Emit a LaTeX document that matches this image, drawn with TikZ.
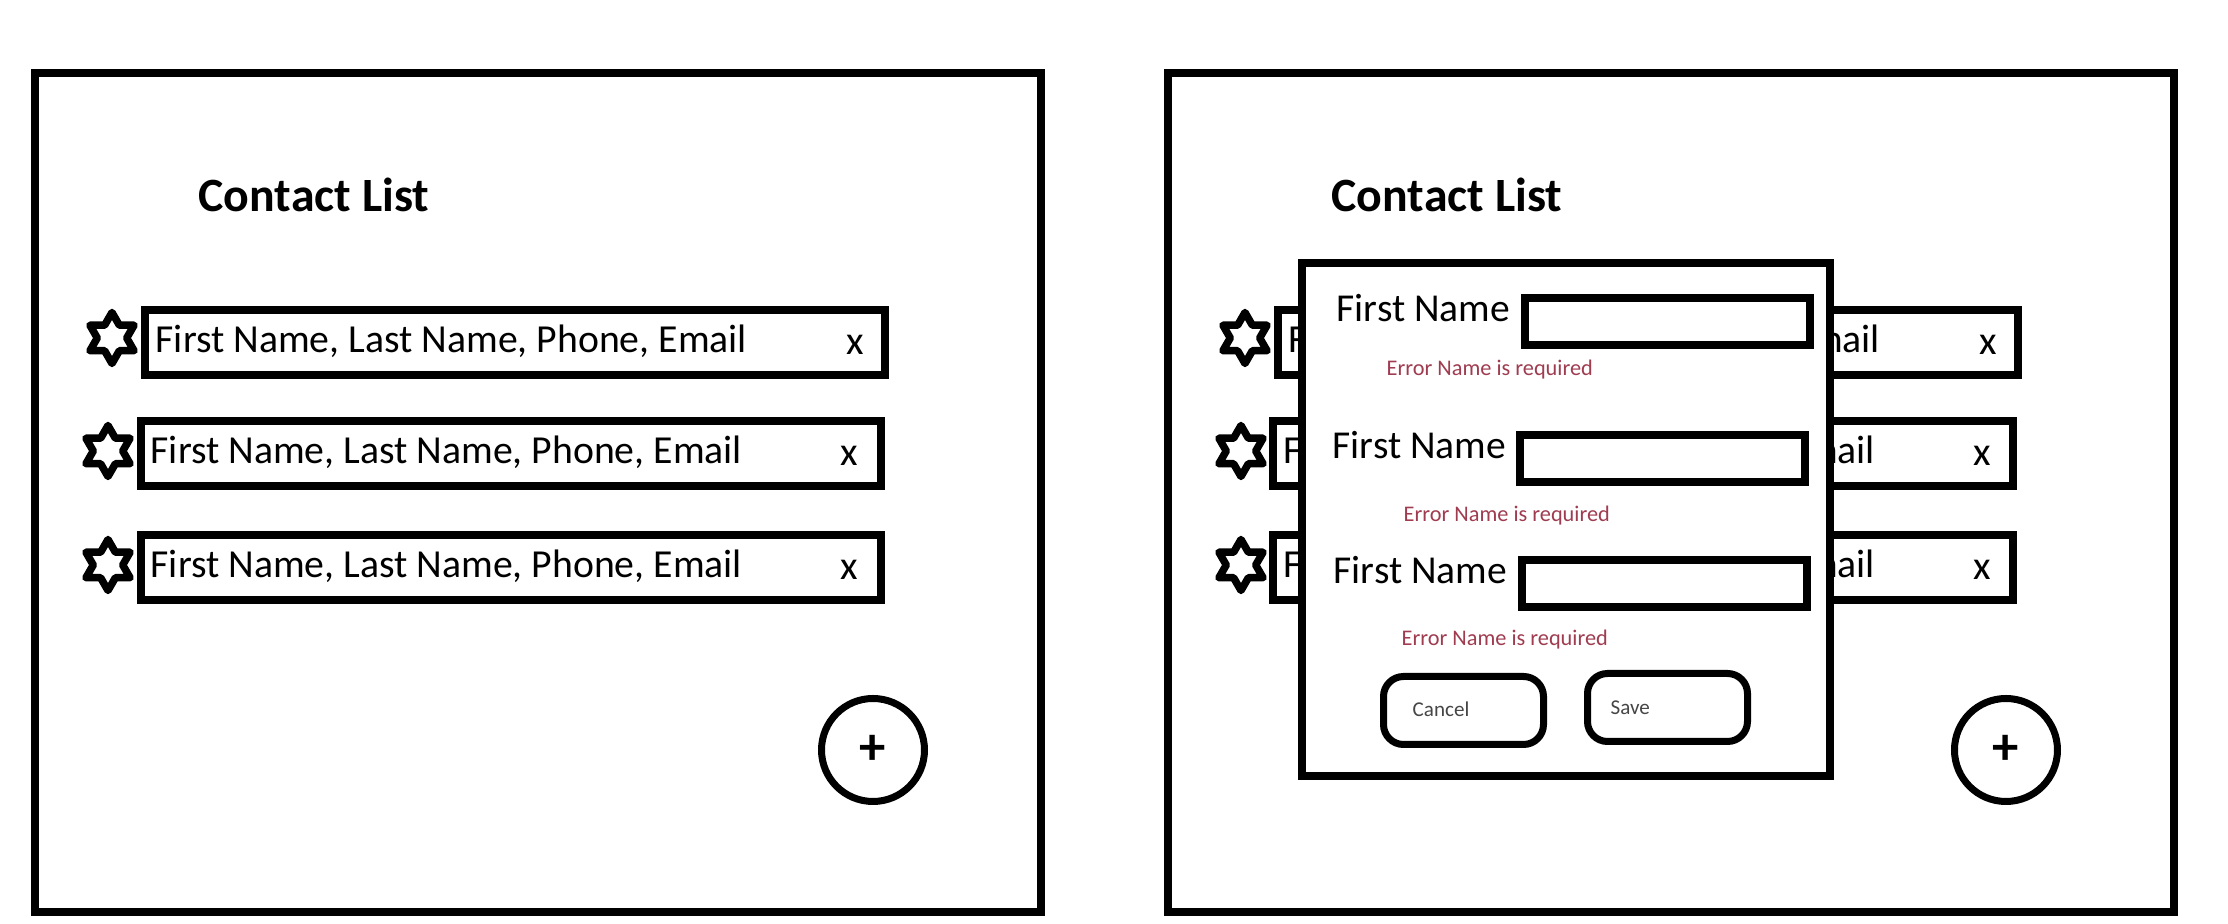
\documentclass[tikz,border=0pt]{standalone}
\usepackage{fontspec}
\setmainfont{Carlito}
\usetikzlibrary{shapes.geometric}

\definecolor{errred}{RGB}{160,60,80}
\definecolor{btngray}{RGB}{70,70,70}

\tikzset{
  screen/.style={draw, line width=0.85mm},
  rowbox/.style={draw, line width=0.8mm, minimum width=74mm, minimum height=6.5mm, inner sep=0pt},
  rowtext/.style={anchor=base west, inner sep=0pt, font=\fontsize{11.3}{12}\selectfont},
  closemark/.style={anchor=base, inner sep=0pt, font=\fontsize{11.5}{12}\selectfont},
  starmark/.style={star, star points=6, star point ratio=1.732, draw, line width=0.75mm, line join=round, minimum size=5.1mm, inner sep=0pt},
  addbtn/.style={circle, draw, line width=0.7mm, minimum size=10.3mm, inner sep=0pt, font=\bfseries\fontsize{15}{15}\selectfont},
  title/.style={anchor=base west, inner sep=0pt, font=\bfseries\fontsize{13.6}{14}\selectfont},
  dialogbox/.style={draw, fill=white, line width=0.85mm, minimum width=52.8mm, minimum height=51.3mm, inner sep=0pt},
  fieldlabel/.style={anchor=base west, inner sep=0pt, font=\fontsize{11.25}{12}\selectfont},
  inputbox/.style={draw, line width=0.8mm, minimum width=28.5mm, minimum height=4.7mm, inner sep=0pt},
  errtext/.style={anchor=base west, inner sep=0pt, text=errred, font=\fontsize{6.35}{7}\selectfont},
  btn/.style={draw, line width=0.7mm, rounded corners=2mm, minimum width=16mm, minimum height=6.8mm, inner sep=0pt},
  btntext/.style={anchor=base west, inner sep=0pt, text=btngray, font=\fontsize{6}{7}\selectfont}
}

\begin{document}
\begin{tikzpicture}[x=0.1mm, y=-0.1mm]
\useasboundingbox (0,0) rectangle (2228,924);

% list screen
\draw[screen] (35,73) rectangle (1041,912);
\node[title] (title) at (198,212) {Contact List};

\node[starmark] (s1) at (112,338) {};
\node[rowbox] (r1) at (515,342.5) {};
\node[rowtext] (t1) at (155,353) {First Name, Last Name, Phone, Email};
\node[closemark] (x1) at (855,355) {x};

\node[starmark] (s2) at (108,451) {};
\node[rowbox] (r2) at (510.5,453.5) {};
\node[rowtext] (t2) at (150,464) {First Name, Last Name, Phone, Email};
\node[closemark] (x2) at (849,466) {x};

\node[starmark] (s3) at (108,565) {};
\node[rowbox] (r3) at (510.5,568) {};
\node[rowtext] (t3) at (150,578) {First Name, Last Name, Phone, Email};
\node[closemark] (x3) at (849,580) {x};

\node[addbtn] (add) at (873,750) {+};

% same screen with the form on top
\scope[xshift=113.3mm]
\draw[screen] (35,73) rectangle (1041,912);
\node[title] (rtitle) at (198,212) {Contact List};

\node[starmark] (rs1) at (112,338) {};
\node[rowbox] (rr1) at (515,342.5) {};
\node[rowtext] (rt1) at (155,353) {First Name, Last Name, Phone, Email};
\node[closemark] (rx1) at (855,355) {x};

\node[starmark] (rs2) at (108,451) {};
\node[rowbox] (rr2) at (510.5,453.5) {};
\node[rowtext] (rt2) at (150,464) {First Name, Last Name, Phone, Email};
\node[closemark] (rx2) at (849,466) {x};

\node[starmark] (rs3) at (108,565) {};
\node[rowbox] (rr3) at (510.5,568) {};
\node[rowtext] (rt3) at (150,578) {First Name, Last Name, Phone, Email};
\node[closemark] (rx3) at (849,580) {x};

\node[addbtn] (radd) at (873,750) {+};
\endscope

\node[dialogbox] (dlg) at (1566,519.5) {};

\node[fieldlabel] (lbl1) at (1336,322) {First Name};
\node[inputbox] (in1) at (1667.5,322) {};
\node[errtext] (err1) at (1386,376) {Error Name is required};

\node[fieldlabel] (lbl2) at (1332,459) {First Name};
\node[inputbox] (in2) at (1662.5,459) {};
\node[errtext] (err2) at (1403,522) {Error Name is required};

\node[fieldlabel] (lbl3) at (1333,584) {First Name};
\node[inputbox] (in3) at (1664,584) {};
\node[errtext] (err3) at (1401,646) {Error Name is required};

\node[btn] (cancel) at (1463.5,710.5) {};
\node[btntext] (canceltxt) at (1412,717) {Cancel};
\node[btn] (save) at (1667.5,707.5) {};
\node[btntext] (savetxt) at (1610,715) {Save};
\end{tikzpicture}
\end{document}
